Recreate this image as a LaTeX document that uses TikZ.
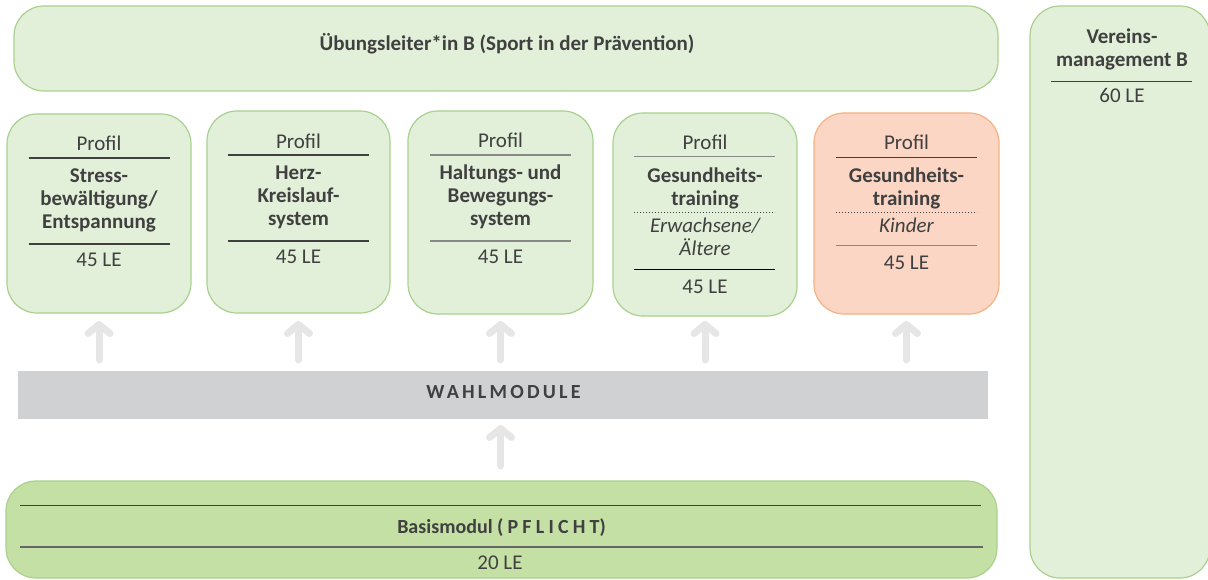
\documentclass[tikz,border=0pt]{standalone}
\usepackage{fontspec}
\setmainfont{Carlito}
\usetikzlibrary{arrows.meta}
\definecolor{lgreen}{HTML}{E2EFD9}
\definecolor{bgreen}{HTML}{A9D18E}
\definecolor{basisfill}{HTML}{C5E0A5}
\definecolor{salmon}{HTML}{FBD6C4}
\definecolor{orangeb}{HTML}{F4B183}
\definecolor{barg}{HTML}{D0D1D3}
\definecolor{tgray}{HTML}{404040}
\definecolor{lgray}{HTML}{888888}
\definecolor{arrg}{HTML}{E6E6E6}
\tikzset{
  gbox/.style={draw=bgreen, fill=lgreen, line width=1.2pt, rounded corners=30pt, inner sep=0pt},
  obox/.style={draw=orangeb, fill=salmon, line width=1.2pt, rounded corners=30pt, inner sep=0pt},
  txt/.style={font=\fontsize{21}{23}\selectfont, text=tgray, anchor=base, inner sep=0pt},
  btxt/.style={txt, font=\bfseries\fontsize{21}{23}\selectfont},
  itxt/.style={txt, font=\itshape\fontsize{21}{23}\selectfont},
  sepd/.style={draw=tgray, line width=1.3pt},
  sepl/.style={draw=lgray, line width=1.3pt},
  sepdot/.style={draw=tgray, line width=1pt, dotted},
  uparr/.style={draw=arrg, line width=7pt, line cap=round, -{Straight Barb[round, length=9pt, width=22pt]}},
}
\begin{document}
\begin{tikzpicture}[x=1pt,y=-1pt]
\useasboundingbox (0,0) rectangle (1208,580);
% top bar
\node[gbox, minimum width=984pt, minimum height=85pt] (top) at (506,48.5) {};
\node[btxt] (toptxt) at (507,51) {Übungsleiter*in B (Sport in der Prävention)};
% right box
\node[gbox, minimum width=180pt, minimum height=572pt] (ver) at (1120,292) {};
\node[btxt] (ver1) at (1122,44) {Vereins-};
\node[btxt] (ver2) at (1122,67) {management B};
\coordinate (vl1) at (1051,81.7); \coordinate (vl2) at (1192,81.7);
\draw[sepd] (vl1) -- (vl2);
\node[txt] (ver3) at (1122,102.7) {60 LE};
% profile boxes
\node[gbox, minimum width=184pt, minimum height=199pt] (p1) at (99,213.5) {};
\node[gbox, minimum width=183pt, minimum height=202pt] (p2) at (298.5,212) {};
\node[gbox, minimum width=185pt, minimum height=203pt] (p3) at (500.5,212.5) {};
\node[gbox, minimum width=184pt, minimum height=203pt] (p4) at (705,214.5) {};
\node[obox, minimum width=185pt, minimum height=201pt] (p5) at (906.5,213.5) {};
% box 1
\node[txt] (p1a) at (99,150.7) {Profil};
\draw[sepd] (28.5,158) -- (169.5,158);
\node[btxt] (p1b) at (99,183) {Stress-};
\node[btxt] (p1c) at (99,206) {bewältigung/};
\node[btxt] (p1d) at (99,229) {Entspannung};
\draw[sepd] (28.5,244) -- (169.5,244);
\node[txt] (p1e) at (99,267) {45 LE};
% box 2
\node[txt] (p2a) at (298.5,148.3) {Profil};
\draw[sepd] (228,155) -- (369,155);
\node[btxt] (p2b) at (298.5,180) {Herz-};
\node[btxt] (p2c) at (298.5,203) {Kreislauf-};
\node[btxt] (p2d) at (298.5,226) {system};
\draw[sepd] (228,241) -- (369,241);
\node[txt] (p2e) at (298.5,264) {45 LE};
% box 3
\node[txt] (p3a) at (500.5,148) {Profil};
\draw[sepl] (430,155) -- (571,155);
\node[btxt] (p3b) at (500.5,180) {Haltungs- und};
\node[btxt] (p3c) at (500.5,203) {Bewegungs-};
\node[btxt] (p3d) at (500.5,226) {system};
\draw[sepl] (430,241) -- (571,241);
\node[txt] (p3e) at (500.5,264) {45 LE};
% box 4
\node[txt] (p4a) at (705,150) {Profil};
\draw[sepl] (634,156.7) -- (775,156.7);
\node[btxt] (p4b) at (705,182.5) {Gesundheits-};
\node[btxt] (p4c) at (705,205.5) {training};
\draw[sepdot] (634,212.3) -- (775,212.3);
\node[itxt] (p4d) at (705,232.5) {Erwachsene/};
\node[itxt] (p4e) at (705,256) {Ältere};
\draw[draw=black, line width=1.3pt] (634,269.3) -- (775,269.3);
\node[txt] (p4f) at (705,293.5) {45 LE};
% box 5
\node[txt] (p5a) at (906.5,150) {Profil};
\draw[sepd] (836,157.3) -- (977,157.3);
\node[btxt] (p5b) at (906.5,182.5) {Gesundheits-};
\node[btxt] (p5c) at (906.5,205.5) {training};
\draw[sepdot] (836,212.7) -- (977,212.7);
\node[itxt] (p5d) at (906.5,232.5) {Kinder};
\draw[sepl] (836,245.7) -- (977,245.7);
\node[txt] (p5e) at (906.5,269.5) {45 LE};
% Wahlmodule bar
\node[fill=barg, minimum width=970pt, minimum height=48pt, inner sep=0pt] (wahl) at (503,394.5) {};
\node[btxt, font=\bfseries\fontsize{20}{22}\selectfont\addfontfeatures{LetterSpace=16}] (wahltxt) at (503.5,398.3) {WAHLMODULE};
% arrows
\foreach \x/\n in {99/1,298.5/2,500.5/3,705/4,906.5/5}{
  \coordinate (as\n) at (\x,360);
  \coordinate (ae\n) at (\x,321);
  \draw[uparr] (as\n) -- (ae\n);
}
\coordinate (bs) at (500.6,466);
\coordinate (be) at (500.6,425);
\draw[uparr] (bs) -- (be);
% Basismodul
\node[draw=bgreen, fill=basisfill, line width=1.2pt, rounded corners=30pt, minimum width=991pt, minimum height=97pt, inner sep=0pt] (basis) at (501.5,529.5) {};
\draw[sepd] (20,505.5) -- (981,505.5);
\node[btxt, font=\bfseries\fontsize{20}{22}\selectfont] (basistxt) at (501.5,533.3) {Basismodul {\addfontfeatures{LetterSpace=21}(PFLICHT})};
\draw[draw=tgray!80, line width=1.3pt] (20,547) -- (983,547);
\node[txt] (basisle) at (500,569.3) {20 LE};
\end{tikzpicture}
\end{document}
